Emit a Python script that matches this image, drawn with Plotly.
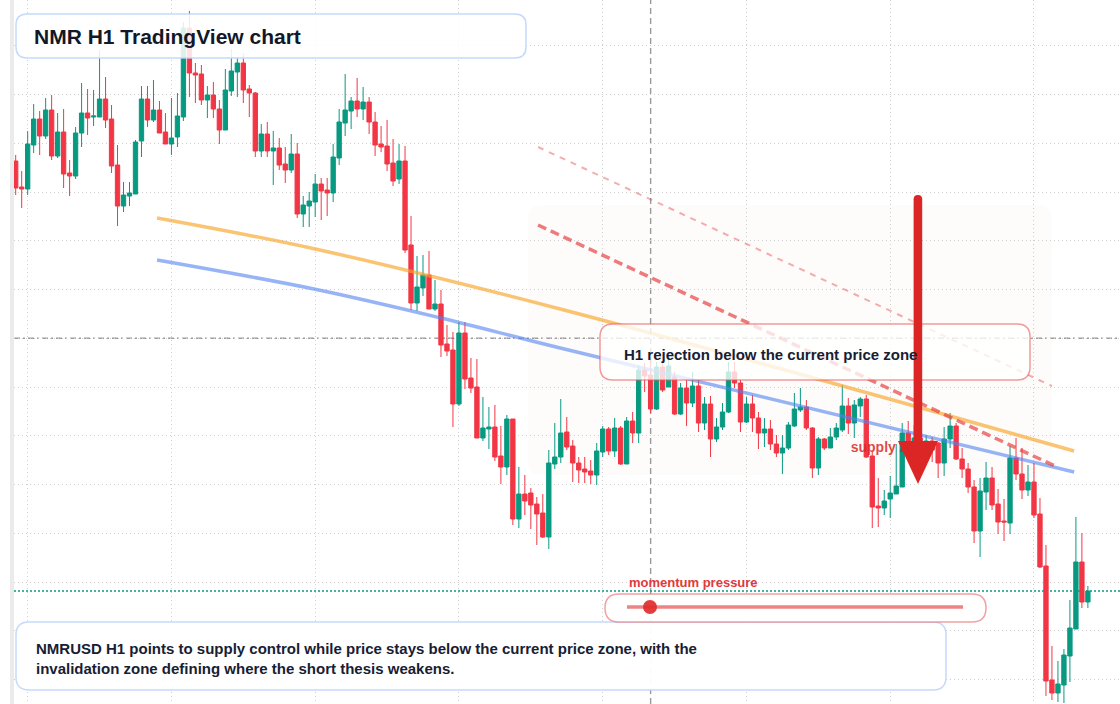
import pandas as pd
import plotly.graph_objects as go

# NMRUSD hourly candles (first bar 22:00)
open_ = [13.43, 13.17, 13.15, 13.59, 13.85, 13.68, 13.94, 13.48, 13.72, 13.31,
         13.28, 13.71, 13.91, 13.87, 13.87, 14.05, 13.85, 13.39, 12.98, 13.08,
         13.10, 13.63, 14.05, 13.84, 13.94, 13.72, 13.60, 13.67, 13.87, 14.76,
         14.31, 14.30, 14.04, 14.09, 13.95, 13.74, 14.13, 14.32, 14.41, 14.15,
         14.11, 13.53, 13.70, 13.53, 13.56, 13.40, 13.34, 13.50, 12.90, 12.98,
         13.02, 13.20, 13.14, 13.11, 13.46, 13.81, 13.93, 14.03, 13.95, 14.02,
         13.82, 13.60, 13.58, 13.41, 13.25, 13.43, 12.59, 12.01, 12.16, 12.29,
         11.95, 12.00, 11.60, 11.54, 11.00, 11.71, 11.26, 11.17, 10.66, 10.75,
         10.77, 10.48, 10.37, 10.85, 9.85, 10.10, 10.11, 10.00, 9.91, 9.67,
         10.40, 10.47, 10.72, 10.58, 10.41, 10.35, 10.33, 10.29, 10.52, 10.75,
         10.53, 10.76, 10.40, 10.83, 10.71, 11.34, 11.29, 10.95, 11.37, 11.17,
         11.27, 10.90, 11.16, 11.01, 11.18, 10.81, 11.00, 10.65, 10.77, 10.92,
         11.32, 11.21, 10.82, 11.00, 10.86, 10.71, 10.75, 10.60, 10.51, 10.56,
         10.78, 10.94, 10.97, 10.76, 10.36, 10.65, 10.56, 10.67, 10.74, 10.98,
         10.81, 10.98, 11.05, 10.48, 9.98, 9.96, 10.05, 10.10, 10.17, 10.71,
         10.58, 10.66, 10.52, 10.63, 10.61, 10.41, 10.65, 10.78, 10.45, 10.35,
         10.17, 9.73, 10.12, 10.26, 10.00, 9.83, 9.81, 10.46, 10.30, 10.14,
         10.22, 9.90, 9.38, 8.24, 8.11, 8.19, 8.48, 8.75, 9.42, 9.02]
high = [13.49, 13.33, 13.73, 14.00, 13.93, 14.06, 14.09, 13.91, 13.95, 13.44,
        13.77, 14.21, 14.15, 14.14, 14.54, 14.27, 13.99, 13.59, 13.22, 13.22,
        13.64, 14.18, 14.18, 14.24, 14.03, 13.91, 14.06, 14.11, 14.82, 14.93,
        14.41, 14.39, 14.18, 14.22, 14.04, 14.35, 14.55, 14.46, 14.51, 14.19,
        14.12, 13.80, 13.82, 13.73, 13.66, 13.57, 13.70, 13.61, 13.08, 13.12,
        13.30, 13.26, 13.26, 13.60, 13.95, 14.30, 14.07, 14.26, 14.17, 14.07,
        13.92, 13.78, 13.84, 13.65, 13.60, 13.58, 12.88, 12.48, 12.49, 12.53,
        12.24, 12.14, 11.79, 11.72, 11.82, 11.82, 11.46, 11.45, 11.07, 10.97,
        10.99, 10.78, 10.89, 10.85, 10.37, 10.29, 10.16, 10.07, 10.10, 10.54,
        10.81, 11.05, 10.87, 10.64, 10.47, 10.47, 10.44, 10.61, 10.78, 10.77,
        10.86, 10.78, 10.87, 10.92, 11.39, 11.41, 11.44, 11.42, 11.42, 11.47,
        11.32, 11.21, 11.24, 11.32, 11.24, 11.07, 11.08, 10.86, 11.01, 11.42,
        11.42, 11.24, 11.07, 11.09, 10.92, 10.86, 10.84, 10.69, 10.69, 10.82,
        11.11, 11.16, 11.04, 10.77, 10.67, 10.66, 10.76, 10.81, 11.19, 11.06,
        11.04, 11.07, 11.09, 10.52, 10.26, 10.14, 10.28, 10.60, 10.81, 10.83,
        10.79, 10.74, 10.69, 10.67, 10.62, 10.77, 10.91, 10.81, 10.56, 10.41,
        10.24, 10.26, 10.42, 10.37, 10.15, 10.05, 10.58, 10.66, 10.56, 10.39,
        10.41, 10.06, 9.59, 8.58, 8.43, 8.55, 9.04, 9.87, 9.71, 9.18]
low = [13.09, 12.96, 13.09, 13.51, 13.49, 13.65, 13.44, 13.46, 13.16, 13.08,
       13.25, 13.57, 13.69, 13.78, 13.87, 13.76, 13.31, 12.78, 12.92, 12.98,
       13.10, 13.47, 13.77, 13.82, 13.71, 13.60, 13.49, 13.57, 13.83, 14.07,
       14.01, 13.99, 13.86, 13.86, 13.60, 13.74, 14.08, 14.07, 14.01, 13.87,
       13.47, 13.47, 13.47, 13.19, 13.34, 13.21, 13.31, 12.86, 12.77, 12.77,
       12.87, 12.84, 12.88, 13.02, 13.39, 13.68, 13.75, 13.87, 13.84, 13.70,
       13.48, 13.52, 13.33, 13.18, 13.20, 12.51, 11.94, 11.93, 12.08, 11.95,
       11.93, 11.47, 11.48, 10.77, 10.98, 11.15, 11.11, 10.66, 10.63, 10.55,
       10.43, 10.20, 10.29, 9.79, 9.76, 9.89, 9.75, 9.59, 9.66, 9.55,
       10.35, 10.41, 10.54, 10.22, 10.21, 10.21, 10.20, 10.19, 10.47, 10.49,
       10.47, 10.39, 10.40, 10.61, 10.61, 11.12, 10.91, 10.94, 11.12, 11.17,
       10.89, 10.89, 10.78, 10.97, 10.72, 10.74, 10.47, 10.62, 10.74, 10.91,
       11.16, 10.72, 10.81, 10.72, 10.55, 10.57, 10.54, 10.47, 10.30, 10.54,
       10.77, 10.92, 10.74, 10.26, 10.29, 10.54, 10.56, 10.64, 10.72, 10.70,
       10.66, 10.87, 10.46, 9.76, 9.77, 9.89, 9.86, 10.10, 10.17, 10.54,
       10.49, 10.44, 10.47, 10.42, 10.26, 10.28, 10.56, 10.44, 10.26, 10.11,
       9.61, 9.47, 9.94, 9.94, 9.70, 9.63, 9.70, 10.24, 10.05, 10.08,
       9.86, 9.36, 8.08, 8.04, 8.02, 8.01, 8.22, 8.75, 8.96, 8.96]
close = [13.16, 13.15, 13.60, 13.85, 13.68, 13.94, 13.48, 13.72, 13.30, 13.28,
         13.71, 13.91, 13.86, 13.88, 14.05, 13.84, 13.38, 12.98, 13.09, 13.11,
         13.62, 14.05, 13.84, 13.94, 13.71, 13.60, 13.66, 13.88, 14.76, 14.31,
         14.29, 14.04, 14.09, 13.95, 13.74, 14.14, 14.33, 14.41, 14.14, 14.11,
         13.53, 13.70, 13.53, 13.56, 13.39, 13.34, 13.50, 12.90, 12.99, 13.03,
         13.20, 13.13, 13.11, 13.47, 13.82, 13.94, 14.03, 13.95, 14.02, 13.82,
         13.59, 13.57, 13.40, 13.23, 13.43, 12.54, 12.01, 12.17, 12.29, 11.95,
         12.00, 11.59, 11.53, 11.00, 11.71, 11.25, 11.16, 10.66, 10.76, 10.77,
         10.47, 10.37, 10.85, 9.85, 10.10, 10.03, 9.99, 9.90, 9.67, 10.41,
         10.47, 10.71, 10.57, 10.41, 10.34, 10.32, 10.29, 10.53, 10.75, 10.53,
         10.76, 10.40, 10.83, 10.71, 11.34, 11.28, 10.95, 11.37, 11.14, 11.38,
         10.90, 11.16, 11.01, 11.18, 10.81, 11.00, 10.65, 10.77, 10.92, 11.32,
         11.21, 10.82, 11.00, 10.86, 10.71, 10.75, 10.60, 10.51, 10.56, 10.79,
         10.95, 10.97, 10.76, 10.36, 10.65, 10.56, 10.67, 10.76, 10.98, 10.81,
         10.99, 11.05, 10.47, 9.97, 9.96, 10.03, 10.11, 10.18, 10.71, 10.57,
         10.66, 10.52, 10.63, 10.54, 10.41, 10.65, 10.78, 10.45, 10.35, 10.17,
         9.73, 10.13, 10.26, 9.99, 9.82, 9.82, 10.46, 10.30, 10.14, 10.22,
         9.89, 9.37, 8.23, 8.11, 8.20, 8.49, 8.76, 9.42, 9.02, 9.13]

# moving average guides (hours from first bar, price)
ema_fast_h = [23.6, 50, 90.9, 176.7]
ema_fast = [12.86, 12.55, 11.95, 10.53]
ema_slow_h = [23.6, 49.8, 71, 90.9, 176.7]
ema_slow = [12.44, 12.15, 11.86, 11.56, 10.32]

# descending channel drawn on the chart
chan_upper_h = [87.2, 173.0]
chan_upper = [13.57, 11.18]
chan_lower_h = [87.2, 173.5]
chan_lower = [12.79, 10.38]

zone_level = 11.657
crosshair_bar = 106

GREEN = "#089981"
RED = "#f23645"
FONT = "Liberation Sans, Arial, sans-serif"

t0 = pd.Timestamp("2024-06-02 22:00")
times = pd.date_range(t0, periods=len(close), freq="h")


def at(h):
    return t0 + pd.Timedelta(hours=h)


# plot area sits at x 14..1120, y 0..704 of the page
def px(x):
    return (x - 14) / 1106


def py(y):
    return 1 - y / 704


def rounded(x0, y0, x1, y1, r):
    pts = [("M", x0 + r, y0), ("L", x1 - r, y0), ("Q", x1, y0, x1, y0 + r),
           ("L", x1, y1 - r), ("Q", x1, y1, x1 - r, y1), ("L", x0 + r, y1),
           ("Q", x0, y1, x0, y1 - r), ("L", x0, y0 + r), ("Q", x0, y0, x0 + r, y0)]
    out = []
    for p in pts:
        cmd, vals = p[0], p[1:]
        coords = []
        for k in range(0, len(vals), 2):
            coords.append(f"{px(vals[k]):.5f},{py(vals[k + 1]):.5f}")
        out.append(cmd + " " + " ".join(coords))
    return " ".join(out) + " Z"


def poly(points):
    return "M " + " L ".join(f"{px(x):.5f},{py(y):.5f}" for x, y in points) + " Z"


fig = go.Figure()

fig.add_trace(go.Candlestick(
    x=times, open=open_, high=high, low=low, close=close,
    increasing=dict(line=dict(color=GREEN, width=1), fillcolor=GREEN),
    decreasing=dict(line=dict(color=RED, width=1), fillcolor=RED),
    showlegend=False))

fig.add_trace(go.Scatter(x=[at(h) for h in ema_fast_h], y=ema_fast, mode="lines",
                         line=dict(color="rgba(247,165,40,0.65)", width=3.5, shape="spline"),
                         hoverinfo="skip"))
fig.add_trace(go.Scatter(x=[at(h) for h in ema_slow_h], y=ema_slow, mode="lines",
                         line=dict(color="rgba(80,130,240,0.6)", width=3.5, shape="spline"),
                         hoverinfo="skip"))
fig.add_trace(go.Scatter(x=[at(h) for h in chan_upper_h], y=chan_upper, mode="lines",
                         line=dict(color="rgba(229,62,62,0.42)", width=2, dash="6px,6px"),
                         hoverinfo="skip"))
fig.add_trace(go.Scatter(x=[at(h) for h in chan_lower_h], y=chan_lower, mode="lines",
                         line=dict(color="rgba(229,62,62,0.68)", width=3.5, dash="9px,5px"),
                         hoverinfo="skip"))

# label that the arrow partly covers
fig.add_trace(go.Scatter(x=[at(139.4)], y=[10.56], mode="text", text=["<b>supply zone</b>"],
                         textposition="middle right",
                         textfont=dict(family=FONT, size=14, color="rgba(220,38,38,0.85)"),
                         hoverinfo="skip"))

shapes = [
    # faint trade zone
    dict(type="path", path=rounded(528, 205, 1052, 475, 14), xref="paper", yref="paper",
         fillcolor="rgba(250,225,205,0.11)", line=dict(width=0), layer="below"),
    dict(type="line", xref="x", yref="paper", x0=times[crosshair_bar], x1=times[crosshair_bar],
         y0=0, y1=1, line=dict(color="#9a9a9a", width=1.4, dash="6px,4px"), layer="below"),
    dict(type="line", xref="paper", yref="y", x0=0, x1=1, y0=zone_level, y1=zone_level,
         line=dict(color="#9e9e9e", width=1.5, dash="6px,3px,2px,3px"), layer="below"),
    dict(type="line", xref="paper", yref="y", x0=0, x1=1, y0=close[-1], y1=close[-1],
         line=dict(color=GREEN, width=1.5, dash="2px,2px"), layer="below"),
    # boxes
    dict(type="path", path=rounded(16, 14, 526, 58, 11), xref="paper", yref="paper",
         fillcolor="rgba(255,255,255,0.86)", line=dict(color="rgba(191,214,250,0.9)", width=1.5),
         layer="above"),
    dict(type="path", path=rounded(600, 324, 1030, 380, 13), xref="paper", yref="paper",
         fillcolor="rgba(255,255,255,0.78)", line=dict(color="rgba(230,90,90,0.6)", width=1.5),
         layer="above"),
    dict(type="path", path=rounded(16, 622, 946, 690, 13), xref="paper", yref="paper",
         fillcolor="rgba(255,255,255,0.95)", line=dict(color="rgba(191,214,250,0.9)", width=1.5),
         layer="above"),
    dict(type="path", path=rounded(605, 594, 986, 622, 14), xref="paper", yref="paper",
         fillcolor="rgba(255,255,255,0.92)", line=dict(color="rgba(235,110,110,0.65)", width=1.5),
         layer="above"),
    dict(type="line", xref="paper", yref="paper", x0=px(627), x1=px(963), y0=py(607), y1=py(607),
         line=dict(color="rgba(232,90,90,0.75)", width=3.5), layer="above"),
    dict(type="circle", xref="paper", yref="paper", x0=px(643), x1=px(657), y0=py(600), y1=py(614),
         fillcolor="rgba(224,45,45,0.92)", line=dict(width=0), layer="above"),
    # arrow
    dict(type="path", xref="paper", yref="paper", layer="above",
         path=(f"M {px(913.6):.5f},{py(442):.5f} L {px(913.6):.5f},{py(199.3):.5f} "
               f"Q {px(913.6):.5f},{py(195):.5f} {px(917.9):.5f},{py(195):.5f} "
               f"Q {px(922.2):.5f},{py(195):.5f} {px(922.2):.5f},{py(199.3):.5f} "
               f"L {px(922.2):.5f},{py(442):.5f} Z"),
         fillcolor="#dc2626", line=dict(width=0)),
    dict(type="path", xref="paper", yref="paper", layer="above",
         path=poly([(898, 441), (938, 441), (918, 484)]),
         fillcolor="#dc2626", line=dict(width=0)),
]

annotations = [
    dict(x=px(32), y=py(36), text="<b>NMR H1 TradingView chart</b>",
         font=dict(family=FONT, size=21, color="#111827")),
    dict(x=px(622), y=py(354), text="<b>H1 rejection below the current price zone</b>",
         font=dict(family=FONT, size=15, color="#172033")),
    dict(x=px(34), y=py(658),
         text="<b>NMRUSD H1 points to supply control while price stays below the current price zone, with the"
              "<br>invalidation zone defining where the short thesis weakens.</b>",
         font=dict(family=FONT, size=15, color="#172033"), align="left"),
    dict(x=px(627), y=py(582), text="<b>momentum pressure</b>",
         font=dict(family=FONT, size=13, color="#e0393e")),
]
for a in annotations:
    a.update(xref="paper", yref="paper", xanchor="left", yanchor="middle", showarrow=False)

fig.update_layout(
    width=1120, height=704,
    margin=dict(l=14, r=0, t=0, b=0),
    paper_bgcolor="white", plot_bgcolor="white",
    showlegend=False,
    boxgap=0.15, boxgroupgap=0.15,
    shapes=shapes, annotations=annotations,
    xaxis=dict(type="date", range=[at(-0.284), at(184.36)], rangeslider=dict(visible=False),
               showgrid=True, gridcolor="#cfcfcf", gridwidth=1, griddash="1px,3px",
               dtick=86400000, showticklabels=False, ticks="", zeroline=False, showline=False),
    yaxis=dict(range=[8.0, 15.04], tick0=zone_level, dtick=0.4875,
               showgrid=True, gridcolor="#cfcfcf", gridwidth=1, griddash="1px,3px",
               showticklabels=False, ticks="", zeroline=False,
               showline=True, linecolor="#ebebeb", linewidth=4),
)

fig.write_html("out.html", config={"displayModeBar": False},
               post_script="document.body.style.margin='0';")
